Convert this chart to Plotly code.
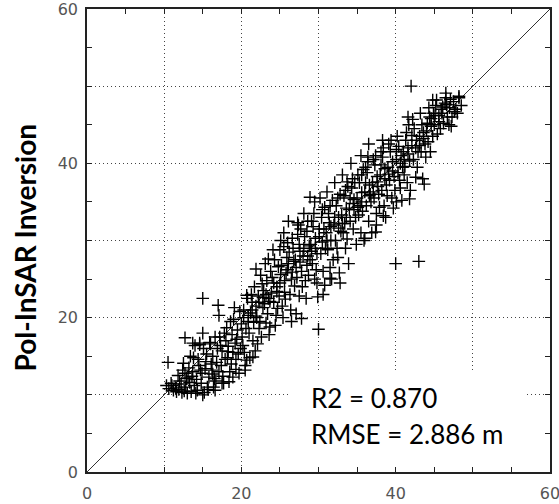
import plotly.graph_objects as go

# Field reference (x) vs Pol-InSAR inversion (y), heights in m
field_h = [
    10.3, 10.5, 10.6, 10.9, 11.2, 11.5, 11.6, 11.9, 12.0, 12.3, 11.8,
    12.4, 12.6, 12.8, 12.9, 12.5, 13.0, 12.7,
    13.2, 13.3, 13.5, 13.6, 13.8, 13.4, 13.9, 13.7,
    14.0, 14.2, 14.3, 14.5, 14.6, 14.8, 14.4, 14.9, 14.1,
    15.0, 15.1, 15.2, 15.3, 15.5, 15.6, 15.8, 15.4, 15.9, 15.7,
    16.0, 16.2, 16.3, 16.5, 16.6, 16.8, 16.4, 16.9, 16.1, 16.7,
    17.0, 17.1, 17.2, 17.4, 17.5, 17.6, 17.8, 17.3, 17.9, 17.7,
    18.0, 18.2, 18.3, 18.5, 18.6, 18.8, 18.4, 18.9, 18.1, 18.7,
    19.0, 19.2, 19.3, 19.5, 19.6, 19.8, 19.4, 19.9, 19.1, 19.7,
    20.0, 20.1, 20.3, 20.4, 20.6, 20.7, 20.9, 20.2, 20.8, 20.5,
    21.0, 21.2, 21.3, 21.5, 21.6, 21.8, 21.4, 21.9, 21.1, 21.7,
    22.0, 22.2, 22.3, 22.5, 22.6, 22.8, 22.4, 22.9, 22.1, 22.7,
    23.0, 23.2, 23.3, 23.5, 23.6, 23.8, 23.4, 23.9, 23.1, 23.7,
    24.0, 24.2, 24.3, 24.5, 24.6, 24.8, 24.4, 24.9, 24.1, 24.7,
    25.0, 25.2, 25.3, 25.5, 25.6, 25.8, 25.4, 25.9, 25.1, 25.7, 25.5,
    26.0, 26.2, 26.3, 26.5, 26.6, 26.8, 26.4, 26.9, 26.1, 26.7, 26.5,
    27.0, 27.2, 27.3, 27.5, 27.6, 27.8, 27.4, 27.9, 27.1, 27.7, 27.5,
    28.0, 28.2, 28.3, 28.5, 28.6, 28.8, 28.4, 28.9, 28.1, 28.7, 28.5,
    29.0, 29.2, 29.3, 29.5, 29.6, 29.8, 29.4, 29.9, 29.1, 29.7, 29.5,
    30.0, 30.1, 30.3, 30.4, 30.6, 30.7, 30.9, 30.2, 30.8, 30.5, 30.6,
    31.0, 31.2, 31.3, 31.5, 31.6, 31.8, 31.4, 31.9, 31.1, 31.7, 31.5,
    32.0, 32.2, 32.3, 32.5, 32.6, 32.8, 32.4, 32.9, 32.1, 32.7, 32.5,
    33.0, 33.2, 33.3, 33.5, 33.6, 33.8, 33.4, 33.9, 33.1, 33.7, 33.5,
    34.0, 34.2, 34.3, 34.5, 34.6, 34.8, 34.4, 34.9, 34.1, 34.7, 34.5,
    35.0, 35.2, 35.3, 35.5, 35.6, 35.8, 35.4, 35.9, 35.1, 35.7, 35.5,
    36.0, 36.2, 36.3, 36.5, 36.6, 36.8, 36.4, 36.9, 36.1, 36.7, 36.5,
    37.0, 37.2, 37.3, 37.5, 37.6, 37.8, 37.4, 37.9, 37.1, 37.7, 37.5,
    38.0, 38.2, 38.3, 38.5, 38.6, 38.8, 38.4, 38.9, 38.1, 38.7,
    39.0, 39.2, 39.3, 39.5, 39.6, 39.8, 39.4, 39.9, 39.1, 39.7,
    40.0, 40.1, 40.3, 40.4, 40.6, 40.7, 40.9, 40.2, 40.8, 40.5,
    41.0, 41.2, 41.3, 41.5, 41.6, 41.8, 41.4, 41.9, 41.1, 41.7,
    42.0, 42.1, 42.3, 42.4, 42.6, 42.7, 42.9, 42.2, 42.8,
    43.0, 43.1, 43.3, 43.4, 43.6, 43.8, 43.2, 43.9, 43.5,
    44.0, 44.2, 44.4, 44.6, 44.8, 44.3, 44.9, 44.5,
    45.0, 45.2, 45.4, 45.6, 45.8, 45.3, 45.9,
    46.0, 46.2, 46.4, 46.7, 46.9, 46.5,
    47.0, 47.3, 47.5, 47.8, 47.2,
    48.2, 48.5, 48.0,
    20.3, 20.9, 21.4, 21.9, 22.3, 22.8, 23.2, 23.7, 24.2, 24.6, 25.1, 25.6,
    26.1, 26.6, 27.1, 27.6, 28.1, 28.6, 29.1, 29.6, 30.1, 30.5, 31.1, 31.6,
    32.1, 32.6, 33.1, 33.6, 34.1, 34.6, 35.1, 35.6, 36.1, 36.6, 37.1, 37.6,
    38.1, 38.6, 39.1, 39.6, 40.1, 40.6, 41.1, 41.6, 42.1, 42.6, 43.1, 43.6,
    44.1, 44.6, 45.1, 45.6, 46.1, 46.6, 47.1, 47.6,
    11.0, 12.2, 13.1, 14.7, 15.0, 14.6, 13.7, 12.7, 16.3, 17.1, 18.3, 19.3,
    20.5, 21.5, 18.9, 17.5, 16.6, 15.0,
    20.7, 21.9, 23.5, 25.0, 26.0, 27.3, 28.9, 30.8, 33.7, 35.6, 36.4, 38.3,
    41.6, 44.8, 46.5, 48.2,
    27.8, 29.8, 31.5, 32.8, 36.0, 37.4, 38.4, 40.1, 41.8, 43.7,
]

inversion_h = [
    11.2, 14.2, 10.8, 11.5, 10.6, 10.9, 10.4, 10.7, 11.8, 10.3, 12.5,
    13.2, 10.5, 11.0, 12.1, 14.1, 10.2, 12.8,
    13.5, 11.6, 10.4, 12.4, 14.8, 15.0, 11.2, 13.0,
    16.4, 12.0, 10.6, 13.8, 16.5, 11.5, 14.6, 12.8, 10.2,
    22.5, 16.0, 10.3, 13.4, 15.3, 11.0, 12.3, 14.3, 16.8, 10.7,
    16.6, 13.2, 15.0, 12.1, 17.5, 14.2, 11.0, 16.0, 14.0, 11.8,
    21.6, 20.3, 17.5, 13.8, 15.7, 12.4, 18.0, 16.4, 14.6, 11.5,
    17.0, 14.8, 16.3, 13.0, 19.5, 17.8, 11.7, 15.5, 18.7, 14.0,
    19.8, 16.7, 13.3, 18.4, 15.3, 20.8, 17.2, 16.0, 21.3, 12.8,
    19.2, 17.5, 21.0, 15.5, 18.6, 14.5, 20.3, 16.4, 22.5, 13.8,
    18.0, 20.6, 23.0, 17.0, 19.4, 15.7, 22.0, 21.5, 14.8, 24.0,
    20.0, 22.8, 18.6, 25.5, 17.5, 21.3, 19.5, 23.5, 16.6, 24.4,
    21.8, 19.3, 24.8, 22.5, 17.8, 26.0, 20.5, 23.2, 27.0, 18.8,
    25.2, 22.0, 27.5, 20.3, 24.0, 26.6, 19.0, 22.8, 28.8, 21.2,
    24.5, 26.8, 21.5, 29.2, 23.3, 25.8, 20.0, 27.8, 30.0, 22.4, 31.0,
    26.2, 28.5, 23.0, 25.0, 30.3, 27.3, 21.0, 24.1, 32.5, 29.0, 19.5,
    27.5, 25.2, 30.8, 22.8, 28.6, 26.0, 32.0, 24.0, 20.5, 31.5, 29.5,
    28.0, 30.5, 24.8, 26.8, 32.5, 29.3, 22.5, 27.5, 33.5, 25.5, 31.2,
    29.5, 27.0, 31.8, 25.0, 30.3, 28.3, 33.5, 22.7, 32.5, 26.2, 35.0,
    18.5, 30.5, 28.3, 33.0, 26.0, 31.5, 29.0, 35.5, 24.2, 34.0, 23.0,
    31.0, 28.8, 33.5, 26.5, 30.0, 35.2, 32.3, 27.5, 36.3, 25.0, 34.5,
    32.0, 30.0, 34.5, 27.8, 33.0, 36.0, 29.0, 31.2, 37.5, 25.8, 35.5,
    33.3, 31.0, 35.8, 29.0, 34.2, 37.0, 32.2, 27.0, 38.5, 30.2, 36.5,
    34.0, 40.0, 36.8, 31.5, 35.3, 33.0, 38.0, 29.5, 32.5, 37.5, 34.8,
    35.5, 33.3, 37.5, 31.0, 36.2, 39.2, 34.5, 30.0, 38.5, 33.8, 41.0,
    36.3, 34.5, 38.8, 32.5, 37.2, 35.0, 40.2, 31.0, 39.5, 36.0, 42.5,
    37.5, 35.5, 39.8, 33.5, 38.3, 36.0, 41.0, 34.3, 40.5, 37.0, 32.0,
    38.5, 36.5, 40.8, 34.5, 39.3, 37.2, 42.0, 35.8, 41.5, 33.0,
    39.5, 37.8, 41.5, 35.5, 40.2, 38.3, 43.0, 36.5, 42.5, 34.2,
    27.0, 40.5, 38.8, 42.2, 36.8, 41.0, 39.5, 43.5, 35.2, 37.8,
    41.5, 39.6, 43.0, 37.5, 42.0, 40.3, 44.0, 36.5, 38.5, 45.0,
    50.0, 42.3, 40.5, 44.5, 38.2, 43.0, 41.5, 45.7, 39.5,
    27.3, 43.5, 41.5, 45.0, 44.0, 42.5, 46.5, 40.8, 38.0,
    44.2, 42.8, 46.0, 44.8, 43.5, 47.2, 46.5, 41.5,
    45.0, 47.5, 43.8, 46.2, 44.5, 48.2, 47.0,
    46.5, 45.2, 47.8, 46.0, 45.0, 48.5,
    47.2, 46.0, 48.0, 47.0, 44.8,
    48.5, 47.5, 46.5,
    20.0, 19.5, 21.0, 20.2, 22.0, 22.6, 23.0, 22.1, 24.5, 23.4, 25.6, 24.8,
    27.0, 25.9, 26.5, 27.2, 29.0, 28.0, 28.6, 29.0, 31.5, 29.8, 30.0, 31.8,
    33.0, 31.6, 32.2, 33.0, 35.5, 34.0, 34.3, 35.0, 37.5, 35.8, 36.3, 37.6,
    39.8, 38.0, 38.6, 39.0, 41.8, 40.0, 40.5, 41.2, 43.6, 42.0, 42.3, 43.2,
    45.2, 45.8, 46.2, 45.4, 47.3, 47.6, 48.3, 46.7,
    11.2, 11.4, 12.2, 13.2, 18.0, 16.7, 16.7, 17.4, 12.7, 13.0, 15.6, 14.6,
    13.2, 14.9, 12.3, 11.5, 10.6, 10.0,
    22.9, 26.3, 27.6, 28.8, 29.7, 32.3, 35.6, 34.3, 37.6, 38.5, 40.8, 43.0,
    46.0, 48.2, 49.1, 48.7,
    19.9, 24.5, 25.1, 24.5, 30.3, 31.1, 33.2, 35.0, 35.4, 37.3,
]

one_to_one_x = [0, 60]
one_to_one_y = [0, 60]

tick_vals = [0, 10, 20, 30, 40, 50, 60]
tick_text = ["0", "", "20", "", "40", "", "60"]

stats_lines = ["R2 = 0.870", "RMSE = 2.886 m"]
y_title = "Pol-InSAR Inversion"

fig = go.Figure()

fig.add_trace(go.Scatter(
    x=one_to_one_x, y=one_to_one_y, mode="lines",
    line=dict(color="#333333", width=1), hoverinfo="skip", showlegend=False,
))

fig.add_trace(go.Scatter(
    x=field_h, y=inversion_h, mode="markers",
    marker=dict(symbol="cross-thin", size=9, color="black",
                line=dict(color="black", width=1.4)),
    showlegend=False,
))

axis_common = dict(
    range=[0, 60], tickvals=tick_vals, ticktext=tick_text,
    ticks="inside", ticklen=5, tickwidth=1, tickcolor="#222222",
    showline=True, linecolor="#222222", linewidth=1.5, mirror="allticks",
    showgrid=True, gridcolor="#444444", gridwidth=1, griddash="1px,3px",
    zeroline=False, automargin=False, ticklabeloverflow="allow",
    minor=dict(dtick=5, ticks="inside", ticklen=5, tickwidth=1,
               tickcolor="#222222", showgrid=False),
    tickfont=dict(family="DejaVu Sans", size=16, color="#555555"),
)

fig.update_xaxes(**axis_common, ticklabelstandoff=6)
fig.update_yaxes(**axis_common, ticklabelstandoff=4)

# white box behind the statistics text
fig.add_shape(type="rect", xref="x", yref="y", x0=26.3, x1=57.0, y0=0.6, y1=13.2,
              fillcolor="white", line=dict(width=0), layer="between")

fig.add_annotation(x=28.8, y=9.6, xref="x", yref="y", text=stats_lines[0],
                   showarrow=False, xanchor="left", yanchor="middle",
                   font=dict(family="Lato", size=26, color="black"))
fig.add_annotation(x=28.8, y=4.9, xref="x", yref="y", text=stats_lines[1],
                   showarrow=False, xanchor="left", yanchor="middle",
                   font=dict(family="Lato", size=26, color="black"))

fig.add_annotation(x=-0.135, y=0.486, xref="paper", yref="paper", text="<b>" + y_title + "</b>",
                   textangle=-90, showarrow=False, xanchor="center", yanchor="middle",
                   font=dict(family="Lato", size=28, color="black"))

fig.update_layout(
    width=559, height=504,
    margin=dict(l=87, r=9, t=9, b=32),
    plot_bgcolor="white", paper_bgcolor="white",
    showlegend=False,
)

fig.write_html("out.html")
